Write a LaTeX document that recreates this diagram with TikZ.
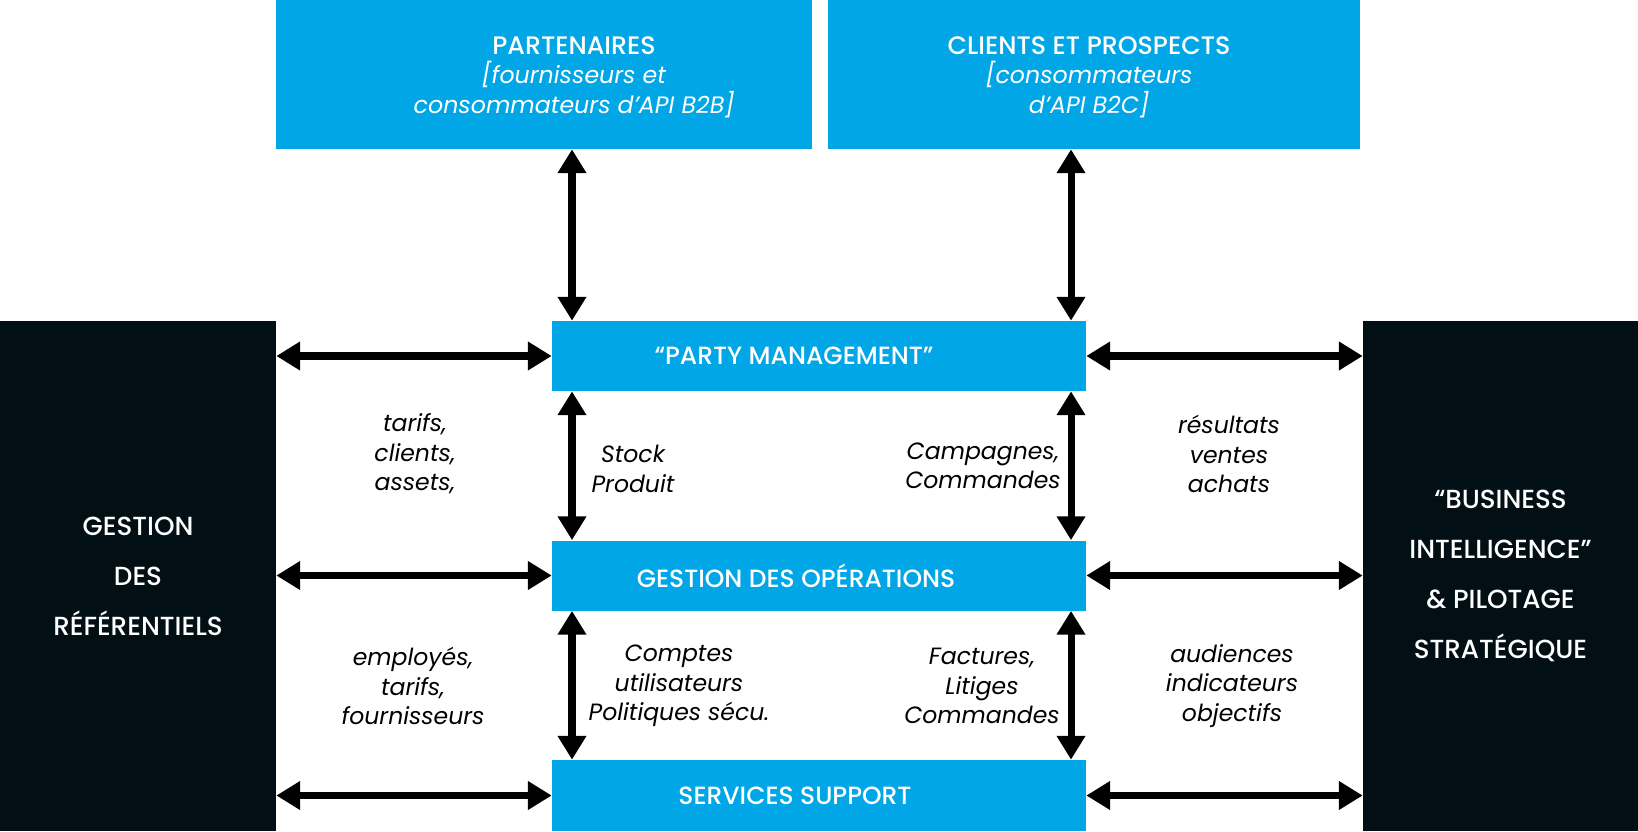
\documentclass[tikz,border=0pt]{standalone}
\usepackage{fontspec}
\setmainfont{Poppins}[BoldFont={Poppins Medium}]
\definecolor{sky}{RGB}{0, 166, 230}
\definecolor{ink}{RGB}{2, 16, 21}
\usetikzlibrary{arrows.meta, positioning, calc}

\tikzset{
  skybox/.style={fill=sky, inner sep=0pt, text=white},
  inkbox/.style={fill=ink, inner sep=0pt, text=white, align=center,
    font=\fontsize{14.9}{28.5}\selectfont\bfseries},
  headtxt/.style={text=white, font=\fontsize{14.2}{16}\selectfont\bfseries},
  toptxt/.style={text=white, align=center, font=\fontsize{13.5}{16.8}\selectfont},
  flowtxt/.style={align=center, font=\fontsize{13.4}{16.7}\selectfont\itshape},
  link/.style={line width=4pt,
    {Triangle[length=13.5pt,width=15.5pt]}-{Triangle[length=13.5pt,width=15.5pt]}},
}

\begin{document}
\begin{tikzpicture}[x=0.02cm, y=-0.02cm]
  \useasboundingbox (0,0) rectangle (1638,831);

  % upper partners
  \node[skybox, minimum width=10.72cm, minimum height=2.98cm] (part) at (544,74.5) {};
  \node[skybox, minimum width=10.64cm, minimum height=2.98cm] (cli) at (1094,74.5) {};
  \node[toptxt] (parttxt) at (574,77) {{\fontsize{14.4}{16.8}\selectfont\bfseries PARTENAIRES}\\ \textit{[fournisseurs et}\\ \textit{consommateurs d’API B2B]}};
  \node[toptxt] (clitxt) at (1089,77) {{\fontsize{14.4}{16.8}\selectfont\bfseries CLIENTS ET PROSPECTS}\\ \textit{[consommateurs}\\ \textit{d’API B2C]}};

  % middle column
  \node[skybox, minimum width=10.68cm, minimum height=1.4cm] (pm) at (819,356) {};
  \node[skybox, minimum width=10.68cm, minimum height=1.4cm] (gdo) at (819,575.5) {};
  \node[skybox, minimum width=10.68cm, minimum height=1.42cm] (ss) at (819,795.5) {};
  \node[headtxt] (pmtxt) at ([xshift=-0.5cm]pm.center) {“PARTY MANAGEMENT”};
  \node[headtxt] (gdotxt) at ([xshift=-0.46cm]gdo.center) {GESTION DES OPÉRATIONS};
  \node[headtxt] (sstxt) at ([xshift=-0.48cm]ss.center) {SERVICES SUPPORT};

  % side blocks
  \node[inkbox, minimum width=5.52cm, minimum height=10.2cm] (ref) at (138,576) {GESTION\\DES\\RÉFÉRENTIELS};
  \node[inkbox, minimum width=5.5cm, minimum height=10.2cm] (bi) at (1500.5,576) {“BUSINESS\\INTELLIGENCE”\\\& PILOTAGE\\STRATÉGIQUE};

  % arrow columns
  \coordinate (lx) at (572,0);
  \coordinate (rx) at (1071,0);

  \draw[link] (part.south -| lx) -- (pm.north -| lx);
  \draw[link] (cli.south -| rx) -- (pm.north -| rx);
  \draw[link] (pm.south -| lx) -- (gdo.north -| lx);
  \draw[link] (pm.south -| rx) -- (gdo.north -| rx);
  \draw[link] (gdo.south -| lx) -- (ss.north -| lx);
  \draw[link] (gdo.south -| rx) -- (ss.north -| rx);

  \draw[link] (ref.east |- pm) -- (pm.west);
  \draw[link] (ref.east |- gdo) -- (gdo.west);
  \draw[link] (ref.east |- ss) -- (ss.west);
  \draw[link] (pm.east) -- (bi.west |- pm);
  \draw[link] (gdo.east) -- (bi.west |- gdo);
  \draw[link] (ss.east) -- (bi.west |- ss);

  % flow labels
  \node[flowtxt] (tarifs) at (415,454) {tarifs,\\clients,\\assets,};
  \node[flowtxt] (stock) at (633,469) {Stock\\Produit};
  \node[flowtxt] (campagnes) at (983,466) {Campagnes,\\Commandes};
  \node[flowtxt] (resultats) at (1229,454) {résultats\\ventes\\achats};
  \node[flowtxt] (employes) at (413,686) {employés,\\tarifs,\\fournisseurs};
  \node[flowtxt] (comptes) at (679,686) {Comptes\\utilisateurs\\Politiques sécu.};
  \node[flowtxt] (factures) at (982,686) {Factures,\\Litiges\\Commandes};
  \node[flowtxt] (audiences) at (1232,686) {audiences\\indicateurs\\objectifs};
\end{tikzpicture}
\end{document}
